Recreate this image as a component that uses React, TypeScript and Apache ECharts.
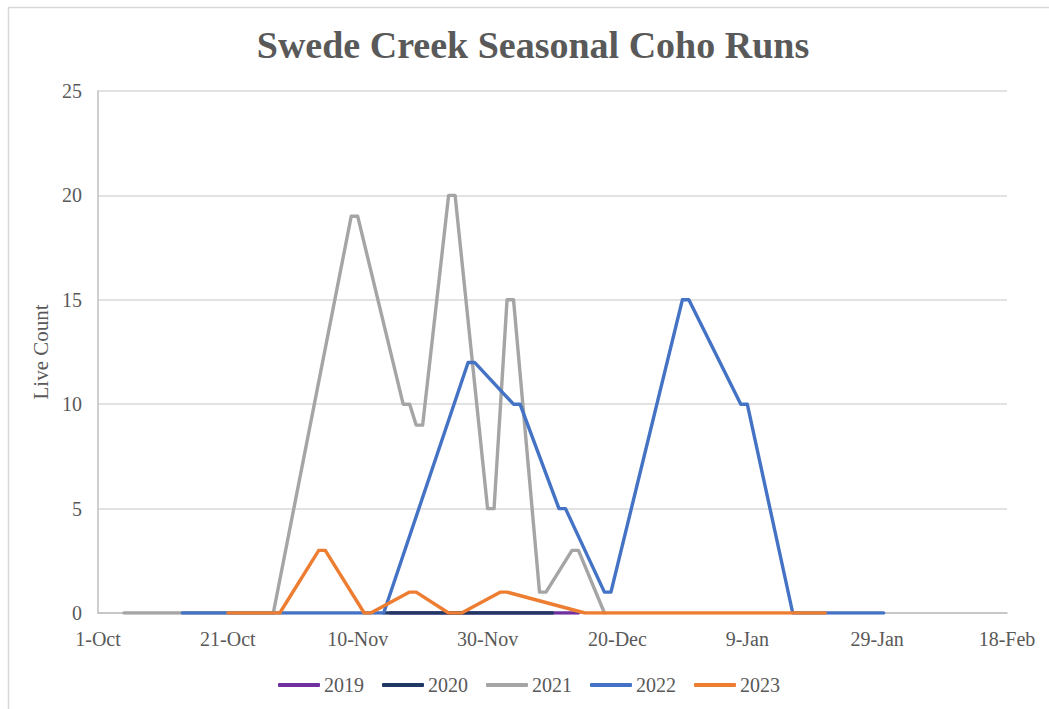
import React, { useEffect, useRef } from "react";
import * as echarts from "echarts";

// Survey dates (MM-DD, season runs Oct → Feb) and live coho counts per season
const DATES_2019 = ["11-15", "12-14"];
const COUNTS_2019 = [0, 0];

const DATES_2020 = ["11-14", "12-10"];
const COUNTS_2020 = [0, 0];

const DATES_2021 = [
  "10-05", "10-28", "11-09", "11-10", "11-17", "11-18", "11-19", "11-20",
  "11-24", "11-25", "11-30", "12-01", "12-03", "12-04", "12-08", "12-09",
  "12-13", "12-14", "12-18",
];
const COUNTS_2021 = [0, 0, 19, 19, 10, 10, 9, 9, 20, 20, 5, 5, 15, 15, 1, 1, 3, 3, 0];

const DATES_2022 = [
  "10-14", "11-14", "11-27", "11-28", "12-04", "12-05", "12-11", "12-12",
  "12-18", "12-19", "12-30", "12-31", "01-08", "01-09", "01-16", "01-30",
];
const COUNTS_2022 = [0, 0, 12, 12, 10, 10, 5, 5, 1, 1, 15, 15, 10, 10, 0, 0];

const DATES_2023 = [
  "10-21", "10-29", "11-04", "11-05", "11-11", "11-12", "11-18", "11-19",
  "11-24", "11-26", "12-02", "12-03", "12-15", "01-21",
];
const COUNTS_2023 = [0, 0, 3, 3, 0, 0, 1, 1, 0, 0, 1, 1, 0, 0];

const SEASONS = ["2019", "2020", "2021", "2022", "2023"];
const SEASON_COLORS = ["#7030A0", "#1F3864", "#A5A5A5", "#4472C4", "#ED7D31"];

// Axis tick labels, one every 20 days from 1-Oct
const X_TICK_LABELS = ["1-Oct", "21-Oct", "10-Nov", "30-Nov", "20-Dec", "9-Jan", "29-Jan", "18-Feb"];
const X_TICK_STEP = 20;
const Y_MAX = 25;
const Y_STEP = 5;

const TITLE = "Swede Creek Seasonal Coho Runs";
const Y_NAME = "Live Count";

const FONT = '"Liberation Serif", "Times New Roman", serif';
const TEXT_COLOR = "#595959";

// Days since 1 October of the season for an "MM-DD" date
function seasonDay(mmdd: string): number {
  const [m, d] = mmdd.split("-").map(Number);
  const year = m >= 9 ? 2000 : 2001;
  return Math.round((Date.UTC(year, m - 1, d) - Date.UTC(2000, 9, 1)) / 86400000);
}

function toPoints(dates: string[], counts: number[]): [number, number][] {
  return dates.map((d, i) => [seasonDay(d), counts[i]]);
}

const SERIES_POINTS = [
  toPoints(DATES_2019, COUNTS_2019),
  toPoints(DATES_2020, COUNTS_2020),
  toPoints(DATES_2021, COUNTS_2021),
  toPoints(DATES_2022, COUNTS_2022),
  toPoints(DATES_2023, COUNTS_2023),
];

export default function App() {
  const ref = useRef<HTMLDivElement>(null);

  useEffect(() => {
    if (!ref.current) return;
    const chart = echarts.init(ref.current, null, { renderer: "svg" });
    const xMax = X_TICK_STEP * (X_TICK_LABELS.length - 1);

    chart.setOption({
      animation: false,
      backgroundColor: "#ffffff",
      textStyle: { fontFamily: FONT },
      graphic: [
        {
          type: "rect",
          left: 6,
          top: 5,
          shape: { x: 0, y: 0, width: 1100, height: 800 },
          style: { fill: "none", stroke: "#D9D9D9", lineWidth: 1.5 },
          silent: true,
        },
        {
          type: "text",
          x: 533,
          y: 45,
          style: {
            text: TITLE,
            fill: TEXT_COLOR,
            font: `bold 38px ${FONT}`,
            textAlign: "center",
            textVerticalAlign: "middle",
          },
        },
      ],
      grid: { left: 98, right: 42, top: 91, bottom: 96, containLabel: false },
      legend: {
        data: SEASONS,
        left: 273,
        top: 670,
        icon: "roundRect",
        itemWidth: 42,
        itemHeight: 4,
        itemGap: 18,
        textStyle: { color: TEXT_COLOR, fontSize: 20, fontFamily: FONT, padding: [0, 0, 0, -1] },
      },
      xAxis: {
        type: "value",
        min: 0,
        max: xMax,
        interval: X_TICK_STEP,
        axisLine: { show: true, lineStyle: { color: "#BFBFBF", width: 1.5 } },
        axisTick: { show: false },
        splitLine: { show: false },
        axisLabel: {
          color: TEXT_COLOR,
          fontSize: 20,
          fontFamily: FONT,
          margin: 16,
          formatter: (v: number) => X_TICK_LABELS[Math.round(v / X_TICK_STEP)] ?? "",
        },
      },
      yAxis: {
        type: "value",
        min: 0,
        max: Y_MAX,
        interval: Y_STEP,
        name: Y_NAME,
        nameLocation: "middle",
        nameRotate: 90,
        nameGap: 47,
        nameTextStyle: { color: TEXT_COLOR, fontSize: 21, fontFamily: FONT },
        axisLine: { show: true, lineStyle: { color: "#BFBFBF", width: 1.5 } },
        axisTick: { show: false },
        splitLine: { show: true, lineStyle: { color: "#D9D9D9", width: 1.5 } },
        axisLabel: { color: TEXT_COLOR, fontSize: 20, fontFamily: FONT, margin: 16 },
      },
      series: SEASONS.map((name, i) => ({
        name,
        type: "line",
        data: SERIES_POINTS[i],
        showSymbol: false,
        symbol: "none",
        color: SEASON_COLORS[i],
        lineStyle: { color: SEASON_COLORS[i], width: 3.4, join: "round", cap: "round" },
        z: 2 + i,
      })),
    });

    return () => chart.dispose();
  }, []);

  return (
    <div
      ref={ref}
      style={{ position: "absolute", left: 0, top: 0, width: 1049, height: 709, background: "#fff" }}
    />
  );
}
